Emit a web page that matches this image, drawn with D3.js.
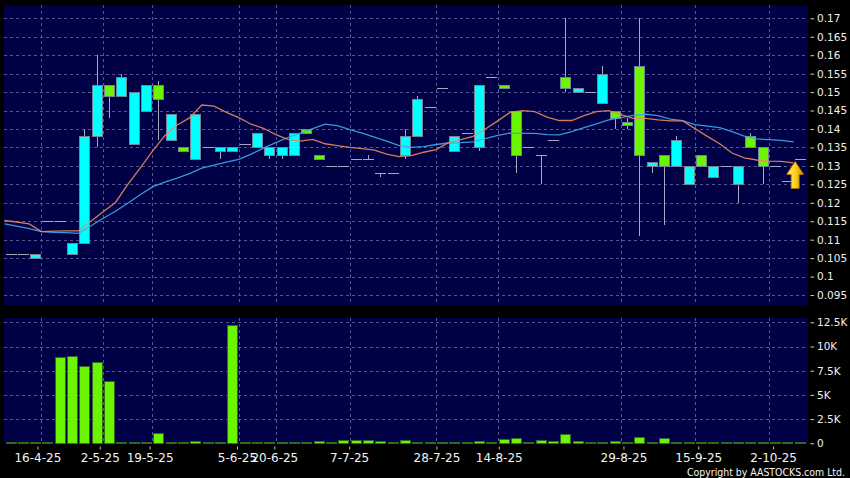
<!DOCTYPE html>
<html><head><meta charset="utf-8">
<script src="https://cdn.jsdelivr.net/npm/d3@7/dist/d3.min.js"></script>
<style>html,body{margin:0;padding:0;background:#000;}svg{display:block}</style>
</head><body>
<svg id="c" width="850" height="478"></svg>
<script>
// ---- data (one entry per trading slot, left to right) ----
const openP  = [.106,.106,.105,.115,.115,.106,.109,.138,.152,.149,.136,.145,.152,.137,.135,.132,.135,.134,.134,.136,.135,.133,.133,.133,.140,.133,.130,.130,.132,.132,.128,.128,.133,.138,.146,.151,.134,.139,.135,.154,.152,.145,.135,.133,.137,.154,.150,.150,.147,.145,.142,.157,.130,.133,.130,.125,.133,.127,.130,.125,.138,.135,.130,.126,.132];
const highP  = [.106,.106,.106,.115,.115,.109,.140,.160,.152,.155,.150,.152,.153,.144,.135,.144,.135,.135,.135,.136,.139,.135,.135,.139,.140,.133,.130,.130,.132,.133,.128,.128,.140,.149,.146,.151,.138,.139,.152,.154,.152,.145,.135,.133,.137,.170,.151,.150,.157,.145,.143,.170,.131,.133,.138,.130,.133,.130,.130,.130,.139,.135,.130,.126,.132];
const lowP   = [.106,.106,.105,.115,.115,.106,.109,.135,.143,.149,.136,.145,.137,.137,.134,.132,.135,.132,.134,.136,.135,.132,.132,.133,.139,.132,.130,.130,.132,.132,.127,.128,.132,.138,.146,.151,.134,.139,.134,.154,.151,.128,.135,.125,.137,.150,.150,.150,.147,.140,.140,.111,.128,.114,.130,.125,.130,.127,.130,.120,.135,.125,.130,.126,.132];
const closeP = [.106,.106,.106,.115,.115,.109,.138,.152,.149,.154,.150,.152,.148,.144,.134,.144,.135,.135,.135,.136,.139,.135,.135,.139,.139,.132,.130,.130,.132,.132,.128,.128,.138,.148,.146,.151,.138,.139,.152,.154,.151,.133,.135,.133,.137,.151,.151,.150,.155,.143,.141,.133,.131,.130,.137,.130,.130,.130,.130,.130,.135,.130,.130,.126,.132];
const volume = [120,120,10,10,8950,9010,7980,8360,6470,120,10,10,1040,10,10,240,10,40,12200,10,10,100,10,100,10,240,170,380,380,380,275,10,310,100,10,10,120,10,240,10,410,550,10,340,240,930,275,10,60,240,10,690,10,550,10,40,10,100,10,10,100,10,10,60,10];
// moving averages as drawn (one value per slot boundary)
const ma10 = [.1152,.1148,.1143,.1122,.1123,.1124,.1124,.1150,.1176,.1201,.1250,.1294,.1340,.1382,.1411,.1430,.1465,.1462,.1445,.1431,.1413,.1402,.1385,.1372,.1367,.1372,.1360,.1355,.1350,.1347,.1343,.1332,.1325,.1328,.1337,.1344,.1363,.1371,.1380,.1400,.1422,.1445,.1450,.1447,.1432,.1423,.1423,.1436,.1447,.1450,.1439,.1429,.1429,.1425,.1422,.1422,.1401,.1380,.1360,.1335,.1322,.1316,.1313,.1312,.1308];
const ma20 = [.1143,.1137,.1130,.1122,.1120,.1119,.1117,.1137,.1158,.1177,.1199,.1222,.1243,.1256,.1267,.1279,.1294,.1302,.1310,.1318,.1332,.1348,.1363,.1377,.1389,.1401,.1413,.1409,.1398,.1389,.1378,.1367,.1355,.1350,.1352,.1358,.1362,.1363,.1365,.1374,.1383,.1389,.1388,.1388,.1385,.1384,.1393,.1404,.1414,.1425,.1431,.1437,.1440,.1436,.1427,.1423,.1412,.1408,.1404,.1393,.1381,.1373,.1371,.1369,.1365];
const priceTicks = [0.095,0.1,0.105,0.11,0.115,0.12,0.125,0.13,0.135,0.14,0.145,0.15,0.155,0.16,0.165,0.17];
const volTicks = [0,2500,5000,7500,10000,12500];
const volTickLabels = ["0","2.5K","5K","7.5K","10K","12.5K"];
const dateLabels = ["16-4-25","2-5-25","19-5-25","5-6-25","20-6-25","7-7-25","28-7-25","14-8-25","29-8-25","15-9-25","2-10-25"];
const dateIdx = [3,8,12,19,22,28,35,40,50,56,62];

const N = closeP.length;
const svg = d3.select("#c");
const BG = "#000046", GRID = "#55558f";

const x = d3.scaleLinear().domain([0, N]).range([4.5, 806]);
const xLab = d3.scaleLinear().domain([0, N]).range([0, 810.5]);
const y = d3.scaleLinear().domain([0.095, 0.17]).range([295.05, 18.3]);
const yv = d3.scaleLinear().domain([0, 12500]).range([443.3, 322.3]);

// panels
svg.append("rect").attr("x",4).attr("y",5).attr("width",804).attr("height",300).attr("fill",BG);
svg.append("rect").attr("x",4).attr("y",318).attr("width",804).attr("height",125.5).attr("fill",BG);

const crisp = v => Math.round(v) + 0.5;
const grid = svg.append("g").attr("stroke",GRID).attr("stroke-dasharray","3,3").attr("stroke-width",1);
priceTicks.forEach(t => grid.append("line").attr("x1",4).attr("x2",808).attr("y1",crisp(y(t))).attr("y2",crisp(y(t))));
volTicks.filter(t=>t>0).forEach(t => grid.append("line").attr("x1",4).attr("x2",808).attr("y1",crisp(yv(t))).attr("y2",crisp(yv(t))));
dateIdx.forEach(k => {
  const xx = crisp(x(k));
  grid.append("line").attr("x1",xx).attr("x2",xx).attr("y1",5).attr("y2",305);
  grid.append("line").attr("x1",xx).attr("x2",xx).attr("y1",318).attr("y2",443);
});

// candles
const cg = svg.append("g");
const idx = d3.range(N);
idx.forEach(k => {
  const x0 = Math.round(x(k)), cx = x0 + 6.5;
  const o = openP[k], c = closeP[k], h = highP[k], l = lowP[k];
  if (h > Math.max(o,c) || l < Math.min(o,c)) {
    cg.append("line").attr("x1",cx).attr("x2",cx).attr("y1",Math.round(y(h))).attr("y2",Math.round(y(l)))
      .attr("stroke","#a8a8bc").attr("stroke-width",1);
  }
  if (o === c) {
    const yy = crisp(y(c));
    cg.append("line").attr("x1",x0+1).attr("x2",x0+12).attr("y1",yy).attr("y2",yy)
      .attr("stroke","#a8a8bc").attr("stroke-width",1);
  } else {
    const yt = Math.round(y(Math.max(o,c))), yb = Math.round(y(Math.min(o,c)));
    cg.append("rect").attr("x",x0+1.5).attr("y",yt+0.5).attr("width",10).attr("height",Math.max(1,yb-yt))
      .attr("fill", c > o ? "#00ffff" : "#6cf500").attr("stroke","#6f8794").attr("stroke-width",1);
  }
});

// moving averages
const line = d3.line().x((d,i)=>x(i)).y(d=>y(d));
svg.append("path").datum(ma20).attr("d",line).attr("fill","none").attr("stroke","#3fa6ea").attr("stroke-width",1.3).attr("opacity",0.9);
svg.append("path").datum(ma10).attr("d",line).attr("fill","none").attr("stroke","#e88a5c").attr("stroke-width",1.3).attr("opacity",0.9);

// volume bars
const vg = svg.append("g");
idx.forEach(k => {
  const x0 = Math.round(x(k));
  const yt = Math.round(yv(volume[k]));
  vg.append("rect").attr("x",x0+1.5).attr("y",Math.min(yt,442)+0.5).attr("width",10).attr("height",Math.max(1,443-Math.min(yt,442)))
    .attr("fill","#6cf500").attr("stroke","#2e6a22").attr("stroke-width",1);
});

// arrow marker
const defs = svg.append("defs");
const gr = defs.append("linearGradient").attr("id","ag").attr("x1","0").attr("x2","1").attr("y1","0").attr("y2","0");
gr.append("stop").attr("offset","0").attr("stop-color","#fff27a");
gr.append("stop").attr("offset","0.5").attr("stop-color","#ffd21a");
gr.append("stop").attr("offset","1").attr("stop-color","#c98a00");
const ax = x(N-1) + 1.5, at = y(ma10[N-1]) - 1.5;
svg.append("path")
  .attr("d", `M${ax},${at} L${ax+8.5},${at+13} L${ax+4},${at+13} L${ax+4},${at+27} L${ax-4},${at+27} L${ax-4},${at+13} L${ax-8.5},${at+13} Z`)
  .attr("fill","url(#ag)").attr("stroke","#b07800").attr("stroke-width",0.8);

// right axes
const fontFam = "DejaVu Sans, sans-serif";
const pAxis = svg.append("g").attr("transform","translate(810.5,0)")
  .call(d3.axisRight(y).tickValues(priceTicks).tickFormat(d => String(+d.toFixed(3))).tickSize(3.5).tickPadding(3));
const vAxis = svg.append("g").attr("transform","translate(810.5,0)")
  .call(d3.axisRight(yv).tickValues(volTicks).tickFormat((d,i)=>volTickLabels[i]).tickSize(3.5).tickPadding(3));
[pAxis, vAxis].forEach(a => {
  a.select(".domain").remove();
  a.selectAll("line").attr("stroke","#d0d0d0");
  a.selectAll("text").attr("fill","#f0f0f0").attr("font-family",fontFam).attr("font-size",10.5);
});

// bottom date axis
const dAxis = svg.append("g").attr("transform","translate(0,446.5)")
  .call(d3.axisBottom(xLab).tickValues(dateIdx).tickFormat((d,i)=>dateLabels[i]).tickSize(3).tickPadding(4));
dAxis.select(".domain").remove();
dAxis.selectAll("line").attr("stroke","#c0c0c0");
dAxis.selectAll("text").attr("fill","#f4f4f4").attr("font-family",fontFam).attr("font-size",12);

svg.append("text").attr("x",845).attr("y",475.5).attr("text-anchor","end")
  .attr("fill","#f4f4f4").attr("font-family",fontFam).attr("font-size",10)
  .attr("textLength",158).attr("lengthAdjust","spacingAndGlyphs")
  .text("Copyright by AASTOCKS.com Ltd.");
</script>
</body></html>
